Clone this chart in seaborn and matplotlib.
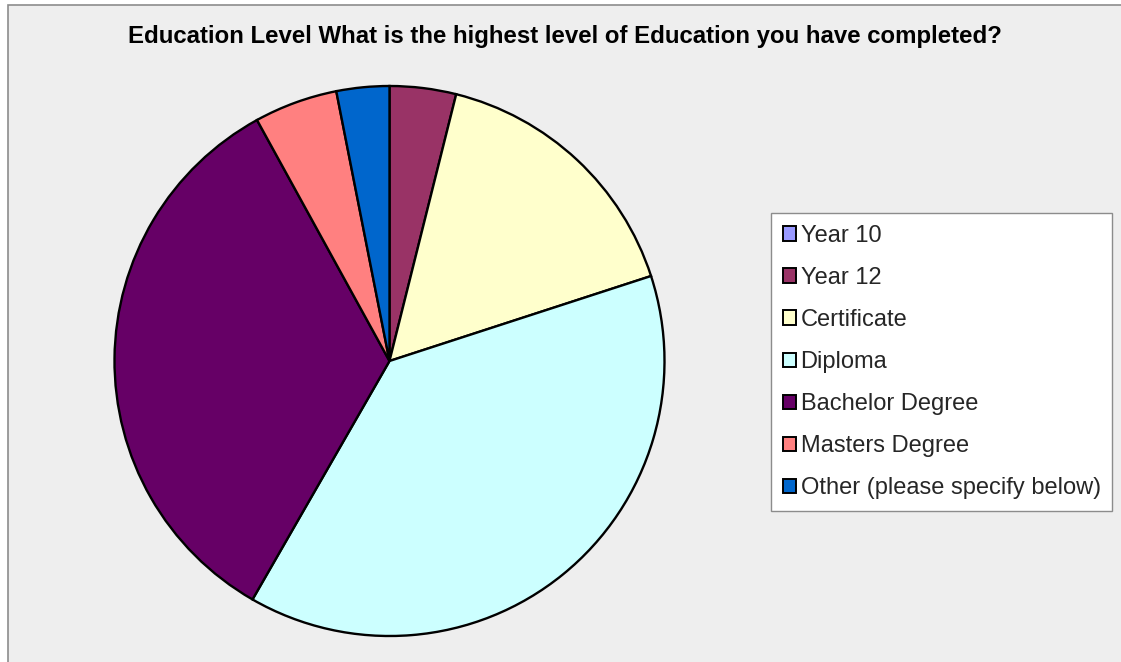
import matplotlib
matplotlib.use("Agg")
import matplotlib.pyplot as plt
from matplotlib.patches import Rectangle, Patch
import seaborn as sns

# Survey responses (% of respondents): highest level of education completed
categories = ["Year 10", "Year 12", "Certificate", "Diploma",
              "Bachelor Degree", "Masters Degree", "Other (please specify below)"]
shares = [0.0, 3.9, 16.1, 38.3, 33.7, 4.9, 3.1]
colors = ["#9999FF", "#993366", "#FFFFCC", "#CCFFFF", "#660066", "#FF8080", "#0066CC"]

title = "Education Level What is the highest level of Education you have completed?"

sns.set_theme(style="white")
plt.rcParams["font.family"] = ["Liberation Sans", "DejaVu Sans"]

W, H = 1121, 662
fig = plt.figure(figsize=(W / 100, H / 100), dpi=100)
fig.patch.set_facecolor("white")

# chart area background with its frame
bg = Rectangle((8 / W, -0.05), 1.2, 1 - 5 / H + 0.05, transform=fig.transFigure,
               facecolor="#EEEEEE", edgecolor="#8C8C8C", linewidth=1.2, zorder=-5)
fig.patches.append(bg)

cx, cy, r = 389.5, 361, 275
ax = fig.add_axes([(cx - r) / W, (H - cy - r) / H, 2 * r / W, 2 * r / H], zorder=2)
ax.set_facecolor("none")
palette = sns.color_palette(colors)
wedges, _ = ax.pie(shares, colors=palette, startangle=90, counterclock=False,
                   wedgeprops=dict(edgecolor="black", linewidth=1.7))
ax.set_xlim(-1.0, 1.0)
ax.set_ylim(-1.0, 1.0)
ax.set_aspect("equal")
ax.axis("off")
for w in wedges:
    w.set_clip_on(False)

fig.text(565 / W, 1 - 37 / H, title, ha="center", va="center",
         fontsize=17.3, fontweight="bold", color="black")

handles = [Patch(facecolor=c, edgecolor="black", linewidth=1.4) for c in palette]
leg = fig.legend(handles, categories, loc="upper left",
                 bbox_to_anchor=(771 / W, 1 - 213 / H),
                 fontsize=17, frameon=True, fancybox=False,
                 handlelength=0.55, handleheight=0.55, handletextpad=0.2,
                 labelspacing=0.85, borderpad=0.5, borderaxespad=0.0)
leg.set_zorder(3)
frame = leg.get_frame()
frame.set_facecolor("white")
frame.set_edgecolor("#8C8C8C")
frame.set_linewidth(1.0)
frame.set_alpha(1)

fig.savefig("out.png", dpi=100)
